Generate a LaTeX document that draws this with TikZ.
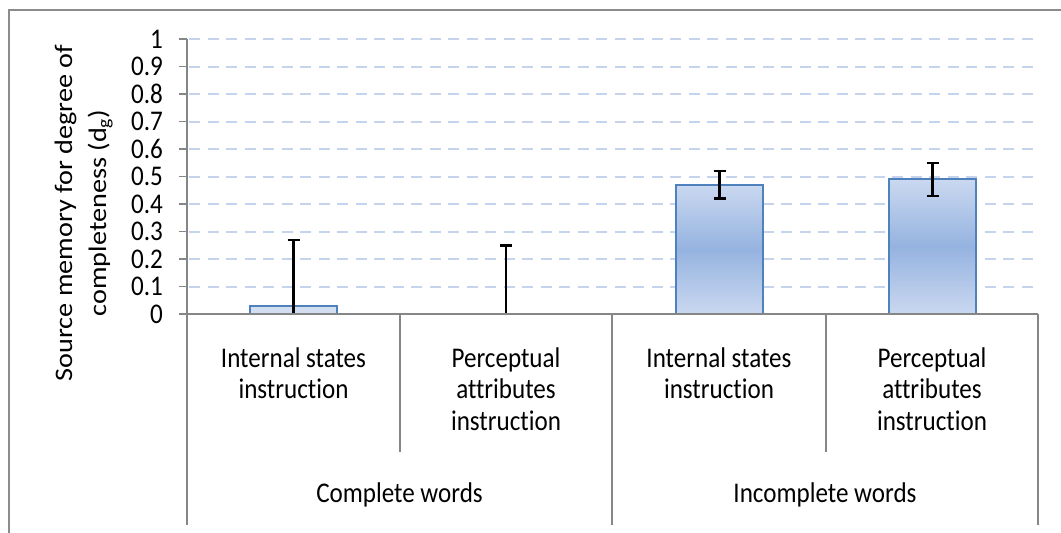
\documentclass[tikz,border=0pt]{standalone}
\usepackage{fontspec}
\setmainfont{Carlito}
\newfontfamily\chartfont{Carlito}[FakeStretch=0.88, Ligatures=NoCommon]
\newfontfamily\titlefont{Carlito}[FakeStretch=1.12, Ligatures=NoCommon]
\definecolor{axisgray}{HTML}{868686}
\definecolor{framegray}{HTML}{8C8C8C}
\definecolor{gridblue}{HTML}{C5D4EC}
\definecolor{barline}{HTML}{4F81BD}
\definecolor{barlight}{HTML}{CAD8F0}
\definecolor{barmid}{HTML}{95B3E0}
\definecolor{barpale}{HTML}{D3DEF1}

\begin{document}
\begin{tikzpicture}[x=1pt,y=-1pt,
  framerule/.style={draw=framegray, line width=2pt},
  axisline/.style={draw=axisgray, line width=1.5pt},
  gridline/.style={draw=gridblue, line width=2pt, dash pattern=on 11pt off 7.5pt},
  bar/.style={draw=barline, line width=2pt, top color=barlight, bottom color=barlight, middle color=barmid},
  flatbar/.style={draw=barline, line width=2pt, fill=barpale},
  errbar/.style={draw=black, line width=2.5pt},
  chartfont/.style={font=\chartfont\fontsize{28.5}{31.5}\selectfont},
  ticklabel/.style={chartfont, anchor=east, inner sep=0pt},
  catlabel/.style={chartfont, anchor=base, inner sep=0pt, align=center},
]
\useasboundingbox (0,0) rectangle (1061,533);
\clip (0,0) rectangle (1061,533);

% outer chart frame (right and bottom edges fall outside the page)
\draw[framerule] (9,560) -- (9,10) -- (1090,10);

% horizontal gridlines
\foreach \v in {1,...,10}
  \draw[gridline] (189,{314-27.5*\v}) -- (1039,{314-27.5*\v});

% value axis with ticks and labels
\coordinate (ytop) at (187,39);
\coordinate (origin) at (187,314);
\draw[axisline] (ytop) -- (origin);
\foreach \v/\t in {0/0,1/0.1,2/0.2,3/0.3,4/0.4,5/0.5,6/0.6,7/0.7,8/0.8,9/0.9,10/1}{
  \draw[axisline] (179,{314-27.5*\v}) -- (187,{314-27.5*\v});
  \node[ticklabel] (tick\v) at (163,{314-27.5*\v}) {\t};
}

% axis title (anchor sits on the baseline of its last line)
\node[rotate=90, anchor=base, inner sep=0pt, align=center,
      font=\titlefont\fontsize{25.2}{34}\selectfont] (ytitle) at (106,213)
  {Source memory for degree of\\completeness (d\textsubscript{g})};

% bars
\draw[flatbar] (250,314) rectangle (337,305.75);
\draw[bar] (676,314) rectangle (763,184.75);
\draw[bar] (889,314) rectangle (976,179.25);

% error bars
\draw[errbar] (293.5,314) -- (293.5,239.75);
\draw[errbar] (287.5,239.75) -- (299.5,239.75);
\draw[errbar] (506,314) -- (506,245.25);
\draw[errbar] (500,245.25) -- (512,245.25);
\draw[errbar] (719.5,198.5) -- (719.5,171);
\draw[errbar] (713.5,198.5) -- (725.5,198.5);
\draw[errbar] (713.5,171) -- (725.5,171);
\draw[errbar] (932.5,195.75) -- (932.5,162.75);
\draw[errbar] (926.5,195.75) -- (938.5,195.75);
\draw[errbar] (926.5,162.75) -- (938.5,162.75);

% category axis and grouping lines
\draw[axisline] (origin) -- (1038,314);
\foreach \x in {187,612,1038}
  \draw[axisline] (\x,314) -- (\x,525);
\foreach \x in {400,826}
  \draw[axisline] (\x,314) -- (\x,452);

% category labels (anchored on the baseline of the last line)
\node[catlabel] (c1) at (293.5,398.5) {Internal states\\instruction};
\node[catlabel] (c2) at (506,430) {Perceptual\\attributes\\instruction};
\node[catlabel] (c3) at (719,398.5) {Internal states\\instruction};
\node[catlabel] (c4) at (932,430) {Perceptual\\attributes\\instruction};
\node[catlabel] (g1) at (399.5,502) {Complete words};
\node[catlabel] (g2) at (825,502) {Incomplete words};
\end{tikzpicture}
\end{document}
